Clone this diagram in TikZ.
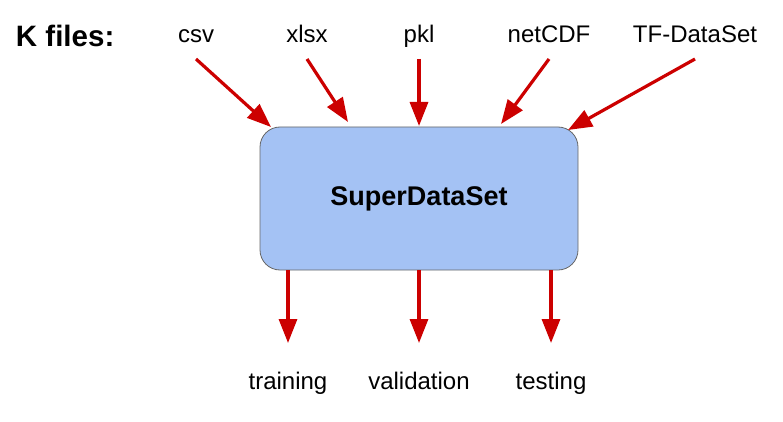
\documentclass[tikz,border=0pt]{standalone}
\usepackage{fontspec}
\setmainfont{Liberation Sans}
\usetikzlibrary{positioning,arrows.meta}
\definecolor{arrowred}{HTML}{CC0000}
\definecolor{boxblue}{HTML}{A4C2F4}
\definecolor{boxline}{HTML}{666666}

\begin{document}
\begin{tikzpicture}[
    x=1pt, y=-1pt,
    lbl/.style = {font=\fontsize{24}{28}\selectfont, text height=17pt, text depth=5pt, inner sep=0pt, outer sep=0pt, anchor=base},
    src/.style = {lbl, text depth=16pt},
    box/.style = {draw=boxline, fill=boxblue, line width=0.8pt, minimum width=318pt, minimum height=143pt, rounded corners=20pt, align=center, font=\fontsize{27}{32}\selectfont\bfseries},
    arr/.style = {draw=arrowred, line width=3.2pt, -{Triangle[length=24pt, width=18pt]}},
]
\useasboundingbox (0,0) rectangle (783,422);

\node (title) [lbl, font=\fontsize{29.5}{34}\selectfont\bfseries, anchor=base west] at (16,47) {K files:};

\node (csv) [src] at (196,43) {csv};
\node (xlsx) [src] at (307,43) {xlsx};
\node (pkl) [src] at (419,43) {pkl};
\node (ncdf) [src] at (549,43) {netCDF};
\node (tfds) [src] at (695,43) {TF-DataSet};

\node (sds) [box] at (419,198.5) {SuperDataSet};

\node (train) [lbl] at (288,389) {training};
\node (valid) [lbl] at (419,389) {validation};
\node (test) [lbl] at (551,389) {testing};

% where the inputs meet the box
\coordinate (csv-in) at (271,127);
\coordinate (xlsx-in) at (348,122);
\coordinate (pkl-in) at (419,126);
\coordinate (ncdf-in) at (501,124);
\coordinate (tfds-in) at (568,130);

\draw[arr] (csv.south) to (csv-in);
\draw[arr] (xlsx.south) to (xlsx-in);
\draw[arr] (pkl.south) to (pkl-in);
\draw[arr] (ncdf.south) to (ncdf-in);
\draw[arr] (tfds.south) to (tfds-in);

\draw[arr, shorten >=29pt] (sds.south -| train) to (train.north);
\draw[arr, shorten >=29pt] (sds.south -| valid) to (valid.north);
\draw[arr, shorten >=29pt] (sds.south -| test) to (test.north);
\end{tikzpicture}
\end{document}
